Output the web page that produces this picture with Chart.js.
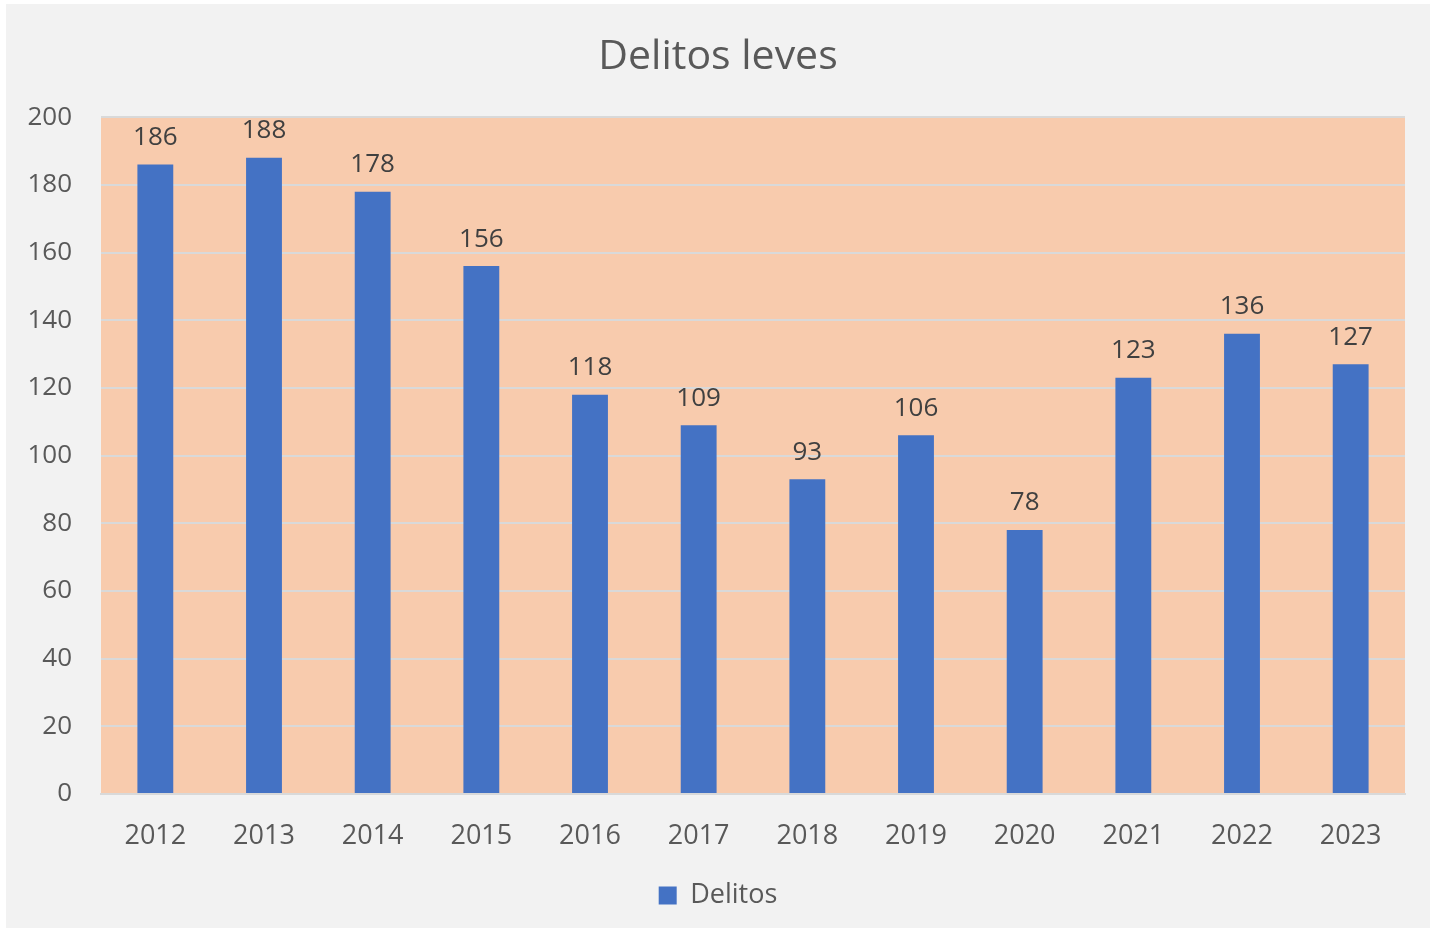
<!DOCTYPE html>
<html>
<head>
<meta charset="utf-8">
<script src="https://cdn.jsdelivr.net/npm/chart.js@4/dist/chart.umd.min.js"></script>
<style>
  html, body { margin: 0; padding: 0; background: #ffffff; }
  #wrap { position: absolute; left: 0; top: 0; width: 1430px; height: 929px; }
</style>
</head>
<body>
<div id="wrap"><canvas id="chart"></canvas></div>
<script>
  // Data
  const years = ["2012", "2013", "2014", "2015", "2016", "2017", "2018", "2019", "2020", "2021", "2022", "2023"];
  const delitos = [186, 188, 178, 156, 118, 109, 93, 106, 78, 123, 136, 127];
  const yTicks = [0, 20, 40, 60, 80, 100, 120, 140, 160, 180, 200];

  const fontFamily = "'Open Sans', Lato, sans-serif";

  // Gray chart box and peach plot area
  const backgroundPlugin = {
    id: "backgrounds",
    beforeDraw(chart) {
      const { ctx, chartArea } = chart;
      ctx.save();
      ctx.fillStyle = "#ffffff";
      ctx.fillRect(0, 0, chart.width, chart.height);
      ctx.fillStyle = "#f2f2f2";
      ctx.fillRect(6, 4, chart.width - 6, chart.height - 5);
      ctx.fillStyle = "#f8cbad";
      ctx.fillRect(chartArea.left, chartArea.top, chartArea.right - chartArea.left, chartArea.bottom - chartArea.top);
      ctx.restore();
    },
  };

  // Value labels above the bars
  const valueLabelPlugin = {
    id: "valueLabels",
    afterDatasetsDraw(chart) {
      const { ctx } = chart;
      const meta = chart.getDatasetMeta(0);
      ctx.save();
      ctx.font = "26px " + fontFamily;
      ctx.fillStyle = "#404040";
      ctx.textAlign = "center";
      ctx.textBaseline = "middle";
      meta.data.forEach((bar, i) => {
        ctx.fillText(String(chart.data.datasets[0].data[i]), bar.x, bar.y - 27);
      });
      ctx.restore();
    },
  };

  new Chart(document.getElementById("chart"), {
    type: "bar",
    data: {
      labels: years,
      datasets: [
        {
          label: "Delitos",
          data: delitos,
          backgroundColor: "#4472c4",
          borderWidth: 0,
          barPercentage: 0.33,
          categoryPercentage: 1,
        },
      ],
    },
    options: {
      responsive: true,
      maintainAspectRatio: false,
      devicePixelRatio: 1,
      animation: false,
      layout: { padding: { left: 6, right: 0, top: 0, bottom: 10 } },
      plugins: {
        title: {
          display: true,
          text: "Delitos leves",
          color: "#595959",
          font: { family: fontFamily, size: 41, weight: "normal" },
          padding: { top: 33, bottom: 35 },
        },
        legend: {
          position: "bottom",
          labels: {
            color: "#595959",
            font: { family: fontFamily, size: 27 },
            boxWidth: 18,
            boxHeight: 18,
            padding: 10,
          },
        },
        tooltip: { enabled: false },
      },
      scales: {
        x: {
          grid: { display: false, drawTicks: false },
          border: { color: "#d9d9d9", width: 2 },
          ticks: {
            color: "#595959",
            font: { family: fontFamily, size: 27 },
            padding: 26,
            maxRotation: 0,
          },
          afterFit(scale) {
            scale.height = 78;
          },
        },
        y: {
          min: 0,
          max: 200,
          afterBuildTicks(scale) {
            scale.ticks = yTicks.map((v) => ({ value: v }));
          },
          grid: { color: "#d9d9d9", lineWidth: 2, drawTicks: false },
          border: { display: false },
          ticks: {
            color: "#595959",
            font: { family: fontFamily, size: 26 },
            padding: 29,
          },
          afterFit(scale) {
            scale.width = 95;
          },
        },
        // empty right-hand axis that only reserves the gap right of the plot area
        yRight: {
          position: "right",
          display: true,
          min: 0,
          max: 200,
          grid: { display: false, drawTicks: false },
          border: { display: false },
          ticks: { display: false },
          afterFit(scale) {
            scale.width = 25;
          },
        },
      },
    },
    plugins: [backgroundPlugin, valueLabelPlugin],
  });
</script>
</body>
</html>
